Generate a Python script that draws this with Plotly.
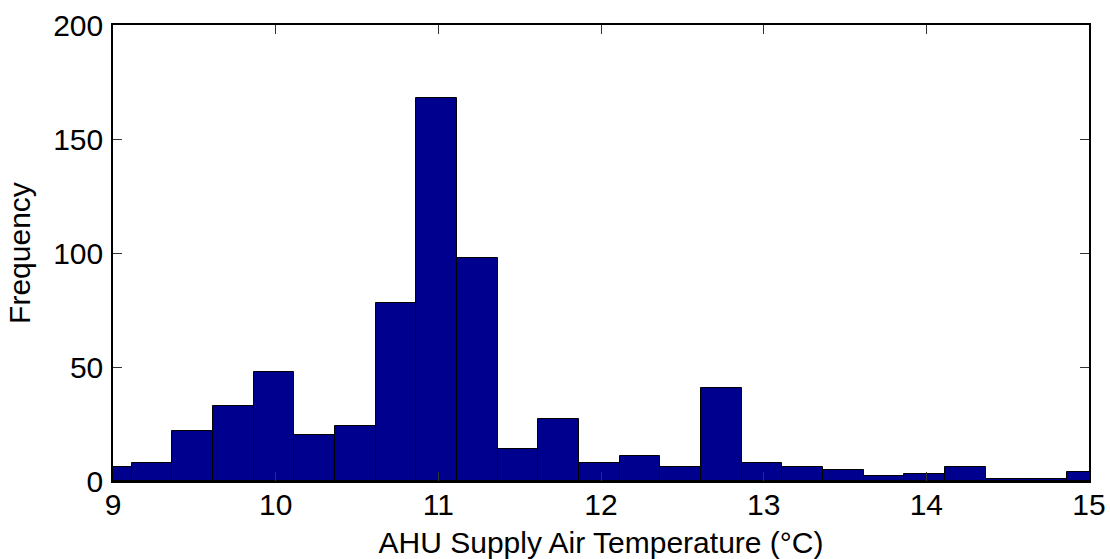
import plotly.graph_objects as go

bin_centers = [8.99 + 0.25 * i for i in range(25)]
counts = [6, 8, 22, 33, 48, 20, 24, 78, 168, 98, 14, 27, 8, 11, 6, 41, 8, 6, 5, 2, 3, 6, 1, 1, 4]
x_ticks = [9, 10, 11, 12, 13, 14, 15]
y_ticks = [0, 50, 100, 150, 200]

fig = go.Figure(go.Bar(
    x=bin_centers, y=counts, width=0.25,
    marker=dict(color="rgb(0,0,143)", line=dict(color="black", width=1)),
))

font = dict(family="Liberation Sans, Arial, sans-serif", size=30, color="black")
fig.update_layout(
    width=1110, height=559,
    margin=dict(l=113, r=21, t=25, b=78, autoexpand=False),
    paper_bgcolor="white", plot_bgcolor="white",
    bargap=0, showlegend=False, font=font,
)
fig.update_xaxes(
    range=[9, 15], tickvals=x_ticks, ticks="inside", ticklen=9, tickcolor="#333",
    showline=True, linecolor="black", linewidth=1.5, mirror="ticks",
    showgrid=False, zeroline=False, ticklabelstandoff=-4, automargin=False,
    title=dict(text="AHU Supply Air Temperature (°C)", standoff=13, font=dict(size=30)),
)
fig.update_yaxes(
    range=[0, 200], tickvals=y_ticks, ticks="inside", ticklen=9, tickcolor="#333",
    showline=True, linecolor="black", linewidth=1.5, mirror="ticks",
    showgrid=False, zeroline=False, ticklabelstandoff=2, automargin=False,
    title=dict(text="Frequency", standoff=14, font=dict(size=30)),
)
fig.write_html(
    "out.html",
    config={"displayModeBar": False},
    post_script="document.body.style.margin='0';document.body.style.overflow='hidden';",
)
